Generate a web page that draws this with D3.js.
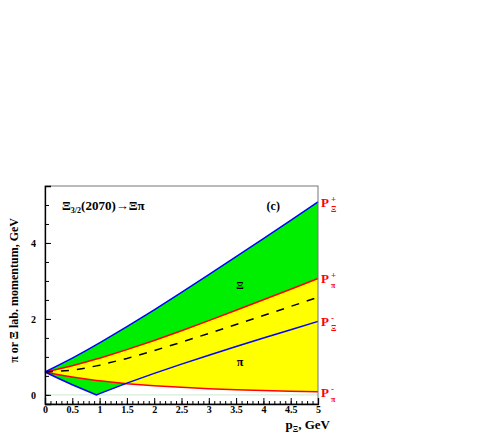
<!DOCTYPE html>
<html>
<head>
<meta charset="utf-8">
<script src="https://cdn.jsdelivr.net/npm/d3@7"></script>
<style>
  body { margin: 0; background: #fff; }
  svg text { font-family: "Liberation Serif", "DejaVu Serif", serif; font-weight: bold; }
  .axis path, .axis line { stroke: #000; }
</style>
</head>
<body>
<div id="chart"></div>
<script>
// parent momentum p_Xi (GeV)
const pXi = [0, 0.25, 0.5, 0.75, 0.9425, 1, 1.5, 2, 2.5, 3, 3.5, 4, 4.5, 5];
// lab momentum limits of the decay products (GeV)
const xiPlus  = [0.602, 0.782, 0.970, 1.166, 1.322, 1.370, 1.796, 2.240, 2.698, 3.165, 3.638, 4.116, 4.597, 5.081];
const xiMinus = [0.602, 0.431, 0.268, 0.114, 0.000, 0.033, 0.309, 0.566, 0.810, 1.045, 1.273, 1.497, 1.717, 1.935];
const piPlus  = [0.602, 0.681, 0.768, 0.864, 0.943, 0.967, 1.191, 1.434, 1.690, 1.955, 2.227, 2.503, 2.783, 3.066];
const piMinus = [0.602, 0.532, 0.470, 0.416, 0.380, 0.370, 0.296, 0.240, 0.198, 0.164, 0.138, 0.116, 0.097, 0.081];
const dashed  = [0.602, 0.626, 0.651, 0.709, 0.764, 0.781, 0.960, 1.166, 1.388, 1.618, 1.853, 2.090, 2.329, 2.571];

const xMajor = [0, 0.5, 1, 1.5, 2, 2.5, 3, 3.5, 4, 4.5, 5];
const xMinor = d3.range(0, 51).map(i => i / 10);
const yMajor = [0, 2, 4];
const yMinor = d3.range(0, 12).map(i => i / 2);

const data = pXi.map((p, i) => ({
    p: p, xp: xiPlus[i], xm: xiMinus[i], pp: piPlus[i], pm: piMinus[i], d: dashed[i]
}));

const width = 491, height = 436;
const margin = { top: 186, right: 173, bottom: 32, left: 45 };

const svg = d3.select("#chart")
    .append("svg")
    .attr("width", width)
    .attr("height", height);

const x = d3.scaleLinear().domain([0, 5]).range([margin.left, width - margin.right]);
const y = d3.scaleLinear().domain([-0.24, 5.5]).range([height - margin.bottom, margin.top]);

// green band: Xi momentum range
svg.append("path")
    .datum(data)
    .attr("fill", "#00ee00")
    .attr("d", d3.area().x(d => x(d.p)).y0(d => y(d.xm)).y1(d => y(d.xp)));

// yellow band: pi momentum range
svg.append("path")
    .datum(data)
    .attr("fill", "#ffff00")
    .attr("d", d3.area().x(d => x(d.p)).y0(d => y(d.pm)).y1(d => y(d.pp)));

// faint zero line
svg.append("line")
    .attr("x1", x(0)).attr("x2", x(5))
    .attr("y1", y(0)).attr("y2", y(0))
    .attr("stroke", "#cfe8cf").attr("stroke-width", 1);

const line = key => d3.line().x(d => x(d.p)).y(d => y(d[key]));

[["pp", "#ff0000"], ["pm", "#ff0000"], ["xp", "#0000ff"], ["xm", "#0000ff"]].forEach(([k, c]) => {
    svg.append("path")
        .datum(data)
        .attr("fill", "none")
        .attr("stroke", c)
        .attr("stroke-width", 1.5)
        .attr("d", line(k));
});

svg.append("path")
    .datum(data)
    .attr("fill", "none")
    .attr("stroke", "#000")
    .attr("stroke-width", 1.5)
    .attr("stroke-dasharray", "8,8")
    .attr("d", line("d"));

// frame
svg.append("rect")
    .attr("x", x(0)).attr("y", margin.top)
    .attr("width", x(5) - x(0)).attr("height", y(-0.24) - margin.top)
    .attr("fill", "none").attr("stroke", "#777").attr("stroke-width", 1);

// x axis
svg.append("g")
    .attr("class", "axis")
    .attr("transform", `translate(0,${y(-0.24)})`)
    .call(d3.axisBottom(x).tickValues(xMinor).tickSize(-3).tickFormat(""))
    .call(g => g.select(".domain").remove());
svg.append("g")
    .attr("class", "axis")
    .attr("transform", `translate(0,${y(-0.24)})`)
    .call(d3.axisBottom(x).tickValues(xMajor).tickSize(-6).tickPadding(2).tickFormat(d => d))
    .call(g => g.selectAll("text").attr("font-size", 10).attr("font-family", "Liberation Serif").attr("font-weight", "bold"))
    .call(g => g.select(".domain").attr("stroke-width", 1.3));

// y axis
svg.append("g")
    .attr("class", "axis")
    .attr("transform", `translate(${x(0)},0)`)
    .call(d3.axisLeft(y).tickValues(yMinor).tickSize(-4).tickFormat(""))
    .call(g => g.select(".domain").remove());
svg.append("g")
    .attr("class", "axis")
    .attr("transform", `translate(${x(0)},0)`)
    .call(d3.axisLeft(y).tickValues(yMajor).tickSize(-6).tickPadding(9).tickFormat(d => d))
    .call(g => g.selectAll("text").attr("font-size", 10).attr("font-family", "Liberation Serif").attr("font-weight", "bold"))
    .call(g => g.select(".domain").attr("stroke-width", 1.3));

// axis titles
svg.append("text")
    .attr("text-anchor", "middle")
    .attr("transform", `translate(18,${y(2.75)}) rotate(-90)`)
    .attr("font-size", 12)
    .text("π or Ξ lab. momentum, GeV");

const xt = svg.append("text")
    .attr("text-anchor", "end")
    .attr("x", x(5) + 12)
    .attr("y", 429)
    .attr("font-size", 13);
xt.append("tspan").text("p");
xt.append("tspan").attr("font-size", 8).attr("dy", 3).text("Ξ");
xt.append("tspan").attr("dy", -3).text(", GeV");

// title
const tt = svg.append("text")
    .attr("x", 62)
    .attr("y", 210)
    .attr("font-size", 13);
tt.append("tspan").text("Ξ");
tt.append("tspan").attr("font-size", 8).attr("dy", 3).text("3/2");
tt.append("tspan").attr("dy", -3).text("(2070)→Ξπ");

svg.append("text")
    .attr("x", x(4.18)).attr("y", 210)
    .attr("text-anchor", "middle")
    .attr("font-size", 12)
    .text("(c)");

// band labels
svg.append("text").attr("x", x(3.57)).attr("y", y(2.9) + 4)
    .attr("text-anchor", "middle").attr("font-size", 11).attr("font-weight", "normal").text("Ξ");
svg.append("text").attr("x", x(3.57)).attr("y", y(0.87) + 4)
    .attr("text-anchor", "middle").attr("font-size", 12).attr("font-weight", "normal").text("π");

// right-hand labels
const rightLabels = [
    { v: xiPlus[xiPlus.length - 1], sup: "+", sub: "Ξ" },
    { v: piPlus[piPlus.length - 1], sup: "+", sub: "π" },
    { v: xiMinus[xiMinus.length - 1], sup: "-", sub: "Ξ" },
    { v: piMinus[piMinus.length - 1], sup: "-", sub: "π" }
];
rightLabels.forEach(l => {
    const g = svg.append("g").attr("transform", `translate(${x(5) + 3},${y(l.v) + 5})`);
    g.append("text").attr("fill", "#ff0000").attr("font-size", 13).text("P");
    g.append("text").attr("fill", "#ff0000").attr("x", 10).attr("y", -5).attr("font-size", 9).text(l.sup);
    g.append("text").attr("fill", "#ff0000").attr("x", 10).attr("y", 5).attr("font-size", 8).text(l.sub);
});
</script>
</body>
</html>
